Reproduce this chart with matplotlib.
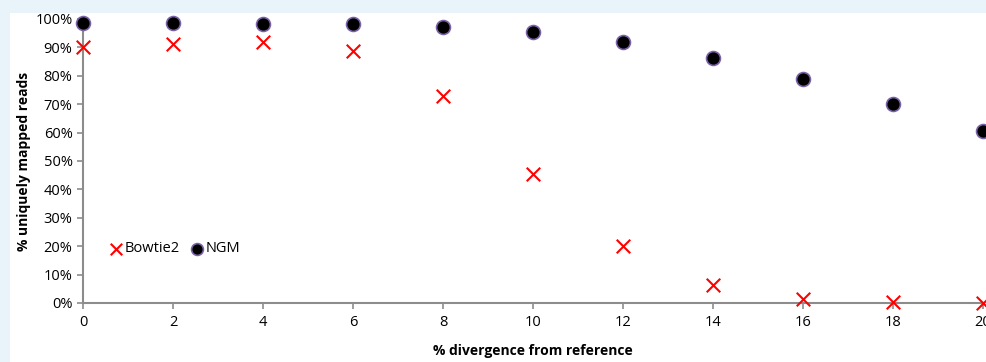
import numpy as np
import matplotlib.pyplot as plt
from matplotlib.patches import Rectangle
from matplotlib.ticker import PercentFormatter

# % divergence from reference
divergence = [0, 2, 4, 6, 8, 10, 12, 14, 16, 18, 20]
# % uniquely mapped reads
bowtie2 = [90.1, 91.2, 91.9, 88.7, 72.9, 45.4, 20.1, 6.3, 1.4, 0.3, 0.0]
ngm = [98.6, 98.6, 98.3, 98.1, 97.3, 95.5, 91.9, 86.3, 78.9, 70.0, 60.6]

plt.rcParams['font.family'] = ['Open Sans', 'DejaVu Sans']

fig = plt.figure(figsize=(9.87, 3.62), dpi=100)
fig.patch.set_facecolor('#e8f3fa')
# white panel inside the light blue frame
fig.patches.append(Rectangle((10 / 987, 0), 1, 1 - 13 / 362, transform=fig.transFigure,
                             facecolor='white', edgecolor='none', zorder=-10))

ax = fig.add_axes([83 / 987, 1 - 303 / 362, 900 / 987, 284 / 362])
ax.set_facecolor('none')

ax.scatter(divergence, bowtie2, marker='x', s=95, color='#ff0000', linewidths=1.5,
           label='Bowtie2', clip_on=False, zorder=3)
ax.scatter(divergence, ngm, marker='o', s=100, color='black', edgecolors='#7b62a8',
           linewidths=1.2, label='NGM', clip_on=False, zorder=3)

ax.set_xlim(0, 20)
ax.set_ylim(0, 100)
ax.set_xticks(range(0, 21, 2))
ax.set_yticks(range(0, 101, 10))
ax.yaxis.set_major_formatter(PercentFormatter(decimals=0))

for s in ['top', 'right']:
    ax.spines[s].set_visible(False)
for s in ['left', 'bottom']:
    ax.spines[s].set_color('#8c8c8c')
    ax.spines[s].set_linewidth(1.5)
ax.tick_params(colors='#8c8c8c', labelcolor='black', labelsize=10.5, length=4, width=1.2)
ax.tick_params(axis='x', pad=5)

ax.set_xlabel('% divergence from reference', fontsize=10, fontweight='bold', labelpad=10)
ax.set_ylabel('% uniquely mapped reads', fontsize=10, fontweight='bold', labelpad=3)

ax.legend(loc='lower left', bbox_to_anchor=(0.012, 0.118), ncol=2, frameon=False,
          fontsize=10.5, handletextpad=0.0, columnspacing=0.6, handlelength=1.2,
          scatterpoints=1, markerscale=0.85)

fig.savefig('out.png', dpi=100, facecolor=fig.get_facecolor())
